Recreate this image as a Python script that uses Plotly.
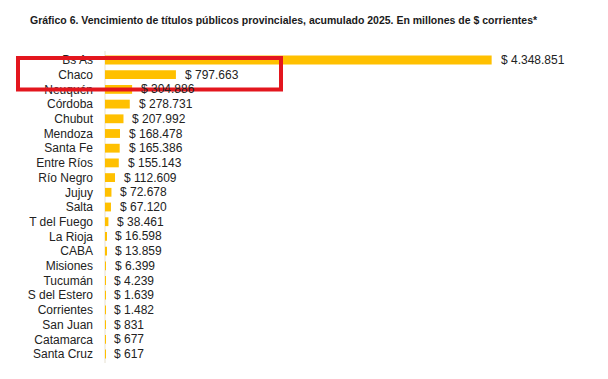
import plotly.graph_objects as go

provincias = ["Bs As", "Chaco", "Neuquén", "Córdoba", "Chubut", "Mendoza", "Santa Fe",
              "Entre Ríos", "Río Negro", "Jujuy", "Salta", "T del Fuego", "La Rioja",
              "CABA", "Misiones", "Tucumán", "S del Estero", "Corrientes", "San Juan",
              "Catamarca", "Santa Cruz"]
valores = [4348851, 797663, 304886, 278731, 207992, 168478, 165386,
           155143, 112609, 72678, 67120, 38461, 16598,
           13859, 6399, 4239, 1639, 1482, 831,
           677, 617]
etiquetas = ["$ 4.348.851", "$ 797.663", "$ 304.886", "$ 278.731", "$ 207.992", "$ 168.478",
             "$ 165.386", "$ 155.143", "$ 112.609", "$ 72.678", "$ 67.120", "$ 38.461",
             "$ 16.598", "$ 13.859", "$ 6.399", "$ 4.239", "$ 1.639", "$ 1.482", "$ 831",
             "$ 677", "$ 617"]

# page body has an 8px margin: compensate
OFF = 8
W, H = 608 - OFF, 379 - OFF
L, R, T, B = 105 - OFF, 14, 51 - OFF, 16

fig = go.Figure()
fig.add_trace(go.Bar(
    x=valores, y=provincias, orientation="h",
    marker=dict(color="#FFC000", line=dict(width=0)),
    width=0.6, hoverinfo="skip"))

for p, v, t in zip(provincias, valores, etiquetas):
    fig.add_annotation(x=v, y=p, xref="x", yref="y", text=t, showarrow=False,
                       xanchor="left", xshift=7,
                       font=dict(family="Liberation Sans, Arial", size=12, color="#222222"))

pw = W - L - R
ph = H - T - B
def px_x(x):
    return (x - OFF - L) / pw
def px_y(y):
    return (H - B - (y - OFF)) / ph
fig.add_shape(type="rect", xref="paper", yref="paper",
              x0=px_x(18), x1=px_x(281), y0=px_y(89.5), y1=px_y(58),
              line=dict(color="#E3161E", width=4), fillcolor="rgba(0,0,0,0)", layer="above")

fig.update_layout(
    width=W, height=H,
    margin=dict(l=L, r=R, t=T, b=B),
    paper_bgcolor="white", plot_bgcolor="white",
    showlegend=False,
    title=dict(text="<b>Gráfico 6. Vencimiento de títulos públicos provinciales, acumulado 2025. En millones de $ corrientes*</b>",
               x=(30 - OFF) / W, xanchor="left", y=1 - (20 - OFF) / H, yanchor="middle",
               font=dict(family="Liberation Sans Narrow, Liberation Sans, Arial", size=10.5, color="#1a1a1a")),
    xaxis=dict(range=[0, 5.5e6], visible=False, fixedrange=True),
    yaxis=dict(autorange="reversed", showgrid=False, zeroline=False,
               showline=False, ticks="", ticklabelstandoff=11,
               tickfont=dict(family="Liberation Sans, Arial", size=12, color="#222222")),
)
fig.add_shape(type="line", xref="paper", yref="paper", x0=0, x1=0, y0=0, y1=1,
              line=dict(color="#e6e0d0", width=1), layer="below")

fig.write_html("out.html")
